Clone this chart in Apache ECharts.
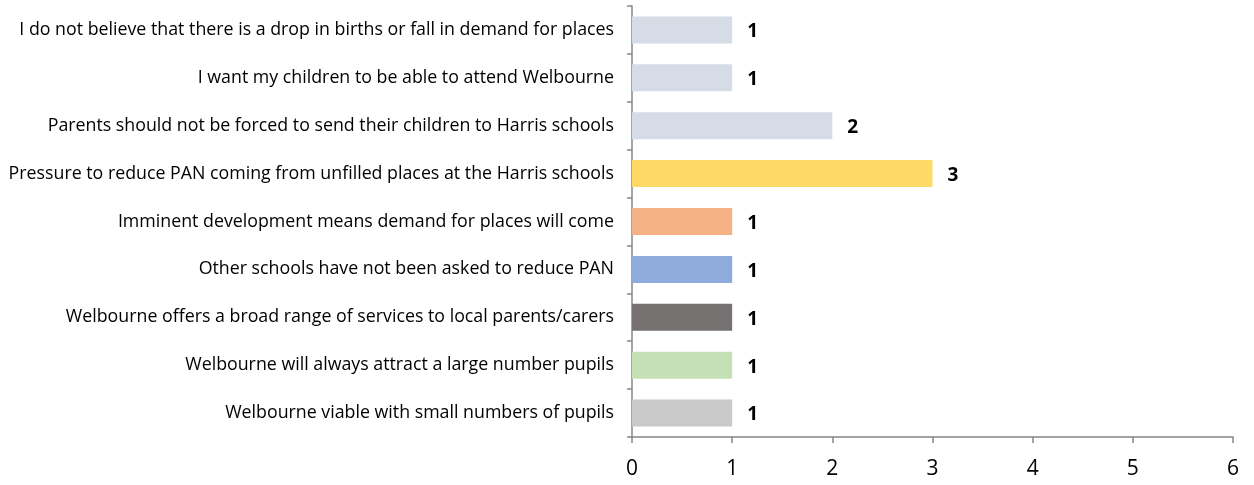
<!DOCTYPE html>
<html>
<head>
<meta charset="utf-8">
<script src="https://cdn.jsdelivr.net/npm/echarts@6/dist/echarts.min.js"></script>
<style>
  html, body { margin: 0; padding: 0; background: #fff; }
  #chart { width: 1254px; height: 485px; }
</style>
</head>
<body>
<div id="chart"></div>
<script>
const categories = [
  'I do not believe that there is a drop in births or fall in demand for places',
  'I want my children to be able to attend Welbourne',
  'Parents should not be forced to send their children to Harris schools',
  'Pressure to reduce PAN coming from unfilled places at the Harris schools',
  'Imminent development means demand for places will come',
  'Other schools have not been asked to reduce PAN',
  'Welbourne offers a broad range of services to local parents/carers',
  'Welbourne will always attract a large number pupils',
  'Welbourne viable with small numbers of pupils'
];
const values = [1, 1, 2, 3, 1, 1, 1, 1, 1];
const barColors = ['#d6dce5', '#d6dce5', '#d6dce5', '#ffd966', '#f4b183', '#8faadc', '#767171', '#c5e0b4', '#c9c9c9'];
const xTicks = [0, 1, 2, 3, 4, 5, 6];

const chart = echarts.init(document.getElementById('chart'));
const axisColor = '#868686';
const font = 'Open Sans';

chart.setOption({
  animation: false,
  grid: { left: 632, right: 21, top: 6, bottom: 48 },
  xAxis: {
    type: 'value',
    min: xTicks[0],
    max: xTicks[xTicks.length - 1],
    interval: 1,
    axisLine: { show: true, lineStyle: { color: axisColor, width: 1.5 } },
    axisTick: { show: true, length: 6, lineStyle: { color: axisColor, width: 1.5 } },
    splitLine: { show: false },
    axisLabel: { color: '#000', fontSize: 21, margin: 22, fontFamily: font }
  },
  yAxis: {
    type: 'category',
    inverse: true,
    data: categories,
    axisLine: { show: true, lineStyle: { color: axisColor, width: 1.5 } },
    axisTick: { show: true, length: 5, lineStyle: { color: axisColor, width: 1.5 } },
    axisLabel: { color: '#000', fontSize: 17.8, margin: 18, fontFamily: font }
  },
  series: [{
    type: 'bar',
    barWidth: 27,
    data: values.map((v, i) => ({ value: v, itemStyle: { color: barColors[i] } })),
    label: {
      show: true,
      position: 'right',
      distance: 15,
      offset: [0, 2],
      color: '#000',
      fontSize: 19,
      fontWeight: 'bold',
      fontFamily: font
    }
  }]
});
</script>
</body>
</html>
